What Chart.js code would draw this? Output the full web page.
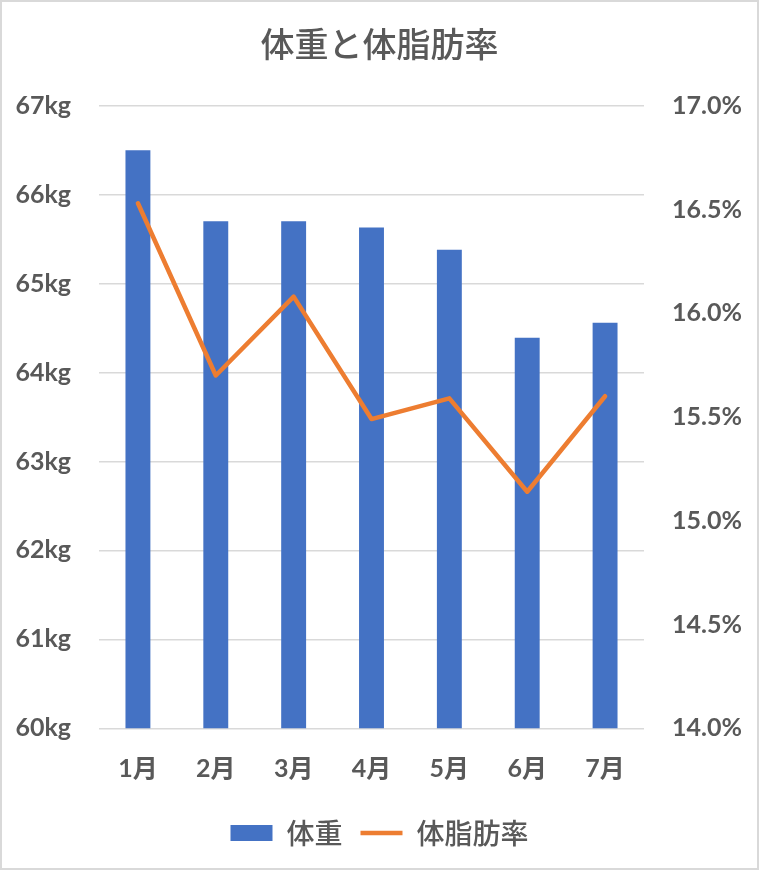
<!DOCTYPE html>
<html>
<head>
<meta charset="utf-8">
<script src="https://cdn.jsdelivr.net/npm/chart.js@4/dist/chart.umd.min.js"></script>
<style>
html,body{margin:0;padding:0;background:#fff;}
canvas{display:block;}
</style>
</head>
<body>
<canvas id="c" width="759" height="870"></canvas>
<script>
const months = ['1月','2月','3月','4月','5月','6月','7月'];
const weight = [66.5, 65.7, 65.7, 65.63, 65.38, 64.39, 64.56];
const bodyFat = [16.53, 15.70, 16.08, 15.49, 15.59, 15.14, 15.60];
const titleText = '体重と体脂肪率';
const weightLabel = '体重';
const fatLabel = '体脂肪率';

const tickFont = {family: 'Lato, "Noto Sans CJK JP", sans-serif', size: 25, weight: 'bold'};
const grey = '#595959';

const borderPlugin = {
  id: 'outerBorder',
  afterDraw(chart) {
    const ctx = chart.ctx;
    ctx.save();
    ctx.strokeStyle = '#d9d9d9';
    ctx.lineWidth = 2;
    ctx.strokeRect(1, 1, chart.width - 2, chart.height - 2);
    ctx.restore();
  }
};

new Chart(document.getElementById('c'), {
  data: {
    labels: months,
    datasets: [
      {
        type: 'bar',
        label: weightLabel,
        data: weight,
        backgroundColor: '#4472C4',
        borderWidth: 0,
        yAxisID: 'y',
        order: 1,
        barPercentage: 0.32,
        categoryPercentage: 1,
        pointStyle: 'rect'
      },
      {
        type: 'line',
        label: fatLabel,
        data: bodyFat,
        borderColor: '#ED7D31',
        backgroundColor: '#ED7D31',
        borderWidth: 4.5,
        borderCapStyle: 'round',
        borderJoinStyle: 'round',
        pointRadius: 0,
        tension: 0,
        yAxisID: 'y1',
        order: 0,
        pointStyle: 'line'
      }
    ]
  },
  options: {
    responsive: false,
    animation: false,
    devicePixelRatio: 1,
    layout: {padding: {left: 0, right: 0, top: 0, bottom: 13}},
    plugins: {
      title: {
        display: true,
        text: titleText,
        color: grey,
        font: {family: '"Noto Sans CJK JP", sans-serif', size: 34, weight: 500, lineHeight: 1.2},
        padding: {top: 23.6, bottom: 41.3}
      },
      legend: {
        position: 'bottom',
        labels: {
          color: grey,
          font: {family: '"Noto Sans CJK JP", sans-serif', size: 28, weight: 500},
          usePointStyle: true,
          pointStyleWidth: 42,
          boxHeight: 16,
          padding: 18,
          sort: (a, b) => a.datasetIndex - b.datasetIndex
        }
      },
      tooltip: {enabled: false}
    },
    scales: {
      x: {
        grid: {display: false, drawTicks: false},
        border: {display: false},
        ticks: {color: grey, font: tickFont, padding: 26},
        afterFit(scale) { scale.height = 72.7; }
      },
      y: {
        position: 'left',
        min: 60,
        max: 67,
        ticks: {stepSize: 1, color: grey, font: tickFont, padding: 28, callback: v => v + 'kg'},
        grid: {color: '#d9d9d9', lineWidth: 1.5, drawTicks: false},
        border: {display: false},
        afterFit(scale) { scale.width = 99; }
      },
      y1: {
        position: 'right',
        min: 14,
        max: 17,
        ticks: {stepSize: 0.5, color: grey, font: tickFont, padding: 28, callback: v => v.toFixed(1) + '%'},
        grid: {display: false, drawTicks: false},
        border: {display: false},
        afterFit(scale) { scale.width = 115; }
      }
    }
  },
  plugins: [borderPlugin]
});
</script>
</body>
</html>
